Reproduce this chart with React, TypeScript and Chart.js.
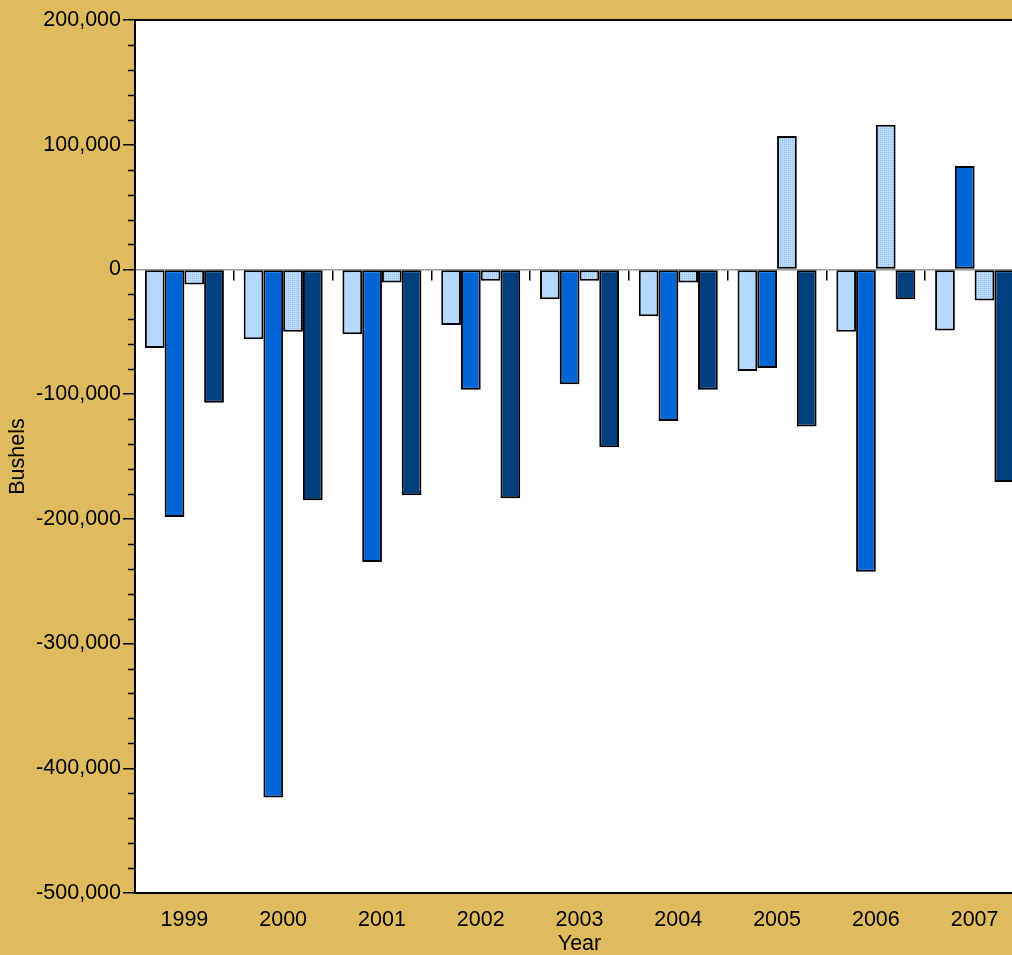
import React, { useEffect, useRef } from "react";
import { Chart, registerables } from "chart.js";

Chart.register(...registerables);

const years = ["1999", "2000", "2001", "2002", "2003", "2004", "2005", "2006", "2007"];
const seriesA = [-63000, -56000, -52000, -44500, -24000, -37500, -81500, -50000, -49000];
const seriesB = [-198500, -423500, -234500, -96500, -92000, -121500, -79000, -242500, 83000];
const seriesC = [-12000, -50000, -10500, -9000, -9000, -10500, 107000, 116000, -25000];
const seriesD = [-107000, -185000, -181000, -183500, -142500, -96500, -126000, -24000, -170500];
const yMin = -500000;
const yMax = 200000;
const majorStep = 100000;
const minorStep = 20000;

const GOLD = "#DFBB5D";
const FONT = "'Liberation Sans', Arial, Helvetica, sans-serif";
const FS = 21.5;

function makePattern(): CanvasPattern | string {
  const c = document.createElement("canvas");
  c.width = 2;
  c.height = 2;
  const g = c.getContext("2d");
  if (!g) return "#b0d4fb";
  g.fillStyle = "#bcdcff";
  g.fillRect(0, 0, 2, 2);
  g.fillStyle = "#8fc0f2";
  g.fillRect(0, 0, 1, 1);
  const p = g.createPattern(c, "repeat");
  return p || "#b0d4fb";
}

const framePlugin = {
  id: "frame",
  beforeDraw(chart: any) {
    const { ctx, chartArea, width, height } = chart;
    ctx.save();
    ctx.fillStyle = GOLD;
    ctx.fillRect(0, 0, width, height);
    ctx.fillStyle = "#ffffff";
    ctx.fillRect(chartArea.left, chartArea.top, chartArea.right - chartArea.left, chartArea.bottom - chartArea.top);
    ctx.restore();
  },
  afterDraw(chart: any) {
    const { ctx, chartArea } = chart;
    const ys = chart.scales.y;
    ctx.save();
    ctx.strokeStyle = "#000";
    ctx.lineWidth = 2;
    ctx.strokeRect(chartArea.left, chartArea.top, chartArea.right - chartArea.left, chartArea.bottom - chartArea.top);
    ctx.lineWidth = 1.5;
    ctx.beginPath();
    for (let v = yMin; v <= yMax; v += minorStep) {
      if (v % majorStep === 0) continue;
      const py = Math.round(ys.getPixelForValue(v)) + 0.5;
      ctx.moveTo(chartArea.left - 7, py);
      ctx.lineTo(chartArea.left, py);
    }
    ctx.stroke();
    ctx.restore();
  },
};

export default function App() {
  const ref = useRef<HTMLCanvasElement | null>(null);
  useEffect(() => {
    if (!ref.current) return;
    const border = { borderColor: "#000000", borderWidth: 2, borderSkipped: false as const };
    const chart = new Chart(ref.current, {
      type: "bar",
      data: {
        labels: years,
        datasets: [
          { label: "A", data: seriesA, backgroundColor: "#b3d9ff", ...border },
          { label: "B", data: seriesB, backgroundColor: "#0066d6", ...border },
          { label: "C", data: seriesC, backgroundColor: makePattern() as any, ...border },
          { label: "D", data: seriesD, backgroundColor: "#003f7f", ...border },
        ],
      },
      options: {
        animation: false,
        responsive: false,
        devicePixelRatio: 1,
        layout: { padding: { top: 20, right: 6, left: 0, bottom: 0 } },
        datasets: { bar: { categoryPercentage: 0.8, barPercentage: 1.0 } },
        plugins: { legend: { display: false }, tooltip: { enabled: false }, title: { display: false } },
        scales: {
          x: {
            type: "category",
            grid: { display: false, drawTicks: false },
            border: { display: true, color: "#000", width: 2 },
            ticks: { color: "#000", font: { family: FONT, size: FS }, padding: 14, maxRotation: 0 },
            title: { display: true, text: "Year", color: "#000", font: { family: FONT, size: FS }, padding: { top: 0, bottom: -2 } },
            afterFit: (s: any) => { s.height = 62; },
          },
          x2: {
            type: "category",
            position: { y: 0 } as any,
            grid: { offset: true, drawOnChartArea: false, drawTicks: true, tickLength: 10, color: "#000", lineWidth: 1.5 },
            border: { display: true, color: "#999999", width: 1.5 },
            ticks: { display: false },
            afterFit: (s: any) => { s.height = 0; },
          },
          y: {
            min: yMin,
            max: yMax,
            grid: { drawOnChartArea: false, drawTicks: true, tickLength: 12, color: "#000", lineWidth: 1.5 },
            border: { display: true, color: "#000", width: 2 },
            ticks: {
              stepSize: majorStep,
              color: "#000",
              padding: 2,
              font: { family: FONT, size: FS },
              callback: (v: any) => Number(v).toLocaleString("en-US"),
            },
            title: { display: true, text: "Bushels", color: "#000", font: { family: FONT, size: FS }, padding: { top: 5, bottom: 0 } },
            afterFit: (s: any) => { s.width = 135; },
          },
        },
      },
      plugins: [framePlugin],
    });
    return () => chart.destroy();
  }, []);
  return (
    <div style={{ position: "fixed", left: 0, top: 0, width: "100vw", height: "100vh", overflow: "hidden", background: GOLD }}>
      <canvas ref={ref} width={1030} height={955} style={{ display: "block" }} />
    </div>
  );
}
